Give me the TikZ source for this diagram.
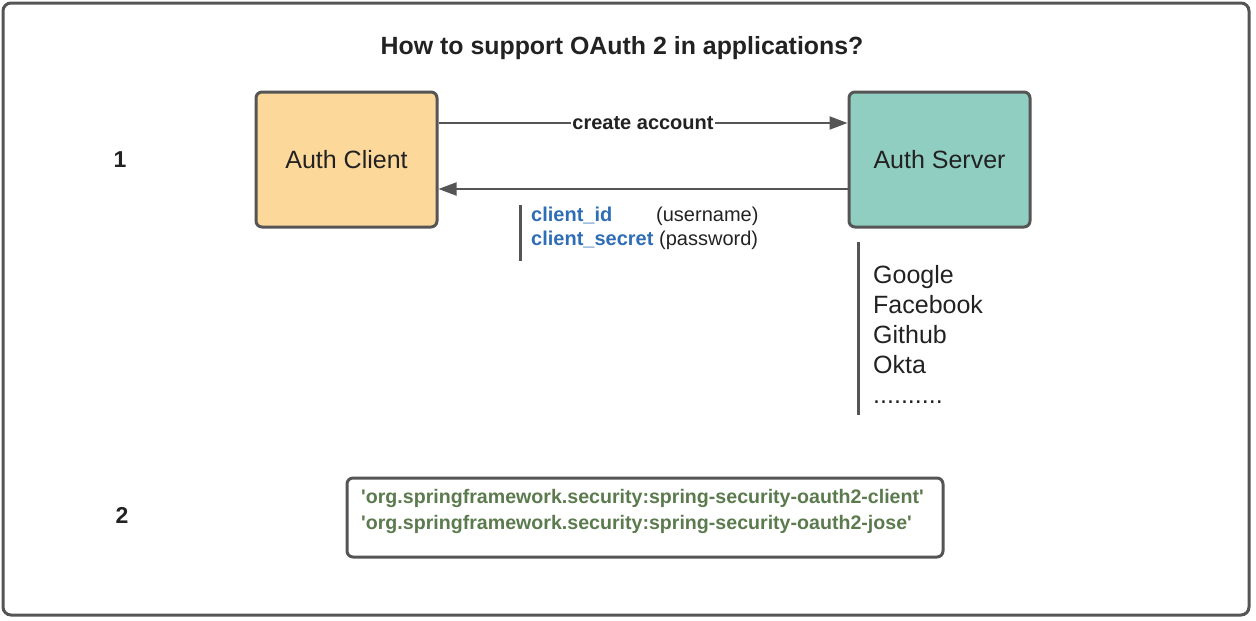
\documentclass[tikz,border=0pt]{standalone}
\usepackage{fontspec}
\setmainfont{Liberation Sans}
\newfontfamily\depfont[Ligatures=TeXOff]{Liberation Sans}
\usetikzlibrary{arrows.meta}
\definecolor{frame}{HTML}{555555}
\definecolor{clientfill}{HTML}{FDD89B}
\definecolor{serverfill}{HTML}{8FCEC0}
\definecolor{idblue}{HTML}{2F6DB5}
\definecolor{depgreen}{HTML}{5B7A4E}
\definecolor{txt}{HTML}{222222}
\tikzset{
  box/.style={draw=frame, line width=3pt, rounded corners=6pt, minimum width=181pt, minimum height=135pt, inner sep=0pt, font=\fontsize{25}{30}\selectfont, text=txt},
  conn/.style={draw=frame, line width=2pt, -{Triangle[length=18pt,width=13pt]}},
  bar/.style={draw=frame, line width=3pt},
  lbl/.style={inner sep=0pt, text=txt},
}
\begin{document}
\begin{tikzpicture}[x=1pt,y=-1pt]
\useasboundingbox (0,0) rectangle (1256,621);
\draw[draw=frame, line width=3pt, rounded corners=8pt] (3,3) rectangle (1249,615);
\node[lbl, anchor=base, font=\bfseries\fontsize{24.9}{29}\selectfont] (title) at (622,54) {How to support OAuth 2 in applications?};
\node[lbl, font=\bfseries\fontsize{23}{27}\selectfont] (one) at (120,160) {1};
\node[lbl, font=\bfseries\fontsize{23}{27}\selectfont] (two) at (122,515) {2};

\node[box, fill=clientfill] (client) at (346.5,159.5) {Auth Client};
\node[box, fill=serverfill] (server) at (939.5,159.5) {Auth Server};

\coordinate (c1) at (client.east |- 0,123);
\coordinate (s1) at (server.west |- 0,123);
\coordinate (c2) at (client.east |- 0,189);
\coordinate (s2) at (server.west |- 0,189);
\draw[conn] (c1) -- (s1) node[midway, fill=white, inner sep=1pt, text=txt, font=\bfseries\fontsize{20}{24}\selectfont] (ca) {create account};
\draw[conn] (s2) -- (c2);

\coordinate (b1t) at (520,205);
\coordinate (b1b) at (520,261);
\draw[bar] (b1t) -- (b1b);
\node[lbl, anchor=base west, text=idblue, font=\bfseries\fontsize{20}{24}\selectfont] (cid) at (531,221) {client\_id};
\node[lbl, anchor=base west, font=\fontsize{20}{24}\selectfont] (uname) at (656,221) {(username)};
\node[lbl, anchor=base west, text=idblue, font=\bfseries\fontsize{20}{24}\selectfont] (csec) at (531,245) {client\_secret};
\node[lbl, anchor=base west, font=\fontsize{20}{24}\selectfont] (pw) at (659,245) {(password)};

\coordinate (b2t) at (858,242);
\coordinate (b2b) at (858,415);
\draw[bar] (b2t) -- (b2b);
\node[lbl, anchor=base west, font=\fontsize{25}{30}\selectfont] (g) at (873,283) {Google};
\node[lbl, anchor=base west, font=\fontsize{25}{30}\selectfont] (f) at (873,313) {Facebook};
\node[lbl, anchor=base west, font=\fontsize{25}{30}\selectfont] (gh) at (873,343) {Github};
\node[lbl, anchor=base west, font=\fontsize{25}{30}\selectfont] (ok) at (873,373) {Okta};
\node[lbl, anchor=base west, font=\fontsize{25}{30}\selectfont] (dots) at (873,403) {..........};

\draw[draw=frame, line width=3pt, rounded corners=6pt] (347,478) rectangle (943,557);
\node[lbl, anchor=base west, text=depgreen, font=\depfont\bfseries\fontsize{19.6}{24}\selectfont] (dep1) at (361,503) {'org.springframework.security:spring-security-oauth2-client'};
\node[lbl, anchor=base west, text=depgreen, font=\depfont\bfseries\fontsize{19.6}{24}\selectfont] (dep2) at (361,529) {'org.springframework.security:spring-security-oauth2-jose'};
\end{tikzpicture}
\end{document}
